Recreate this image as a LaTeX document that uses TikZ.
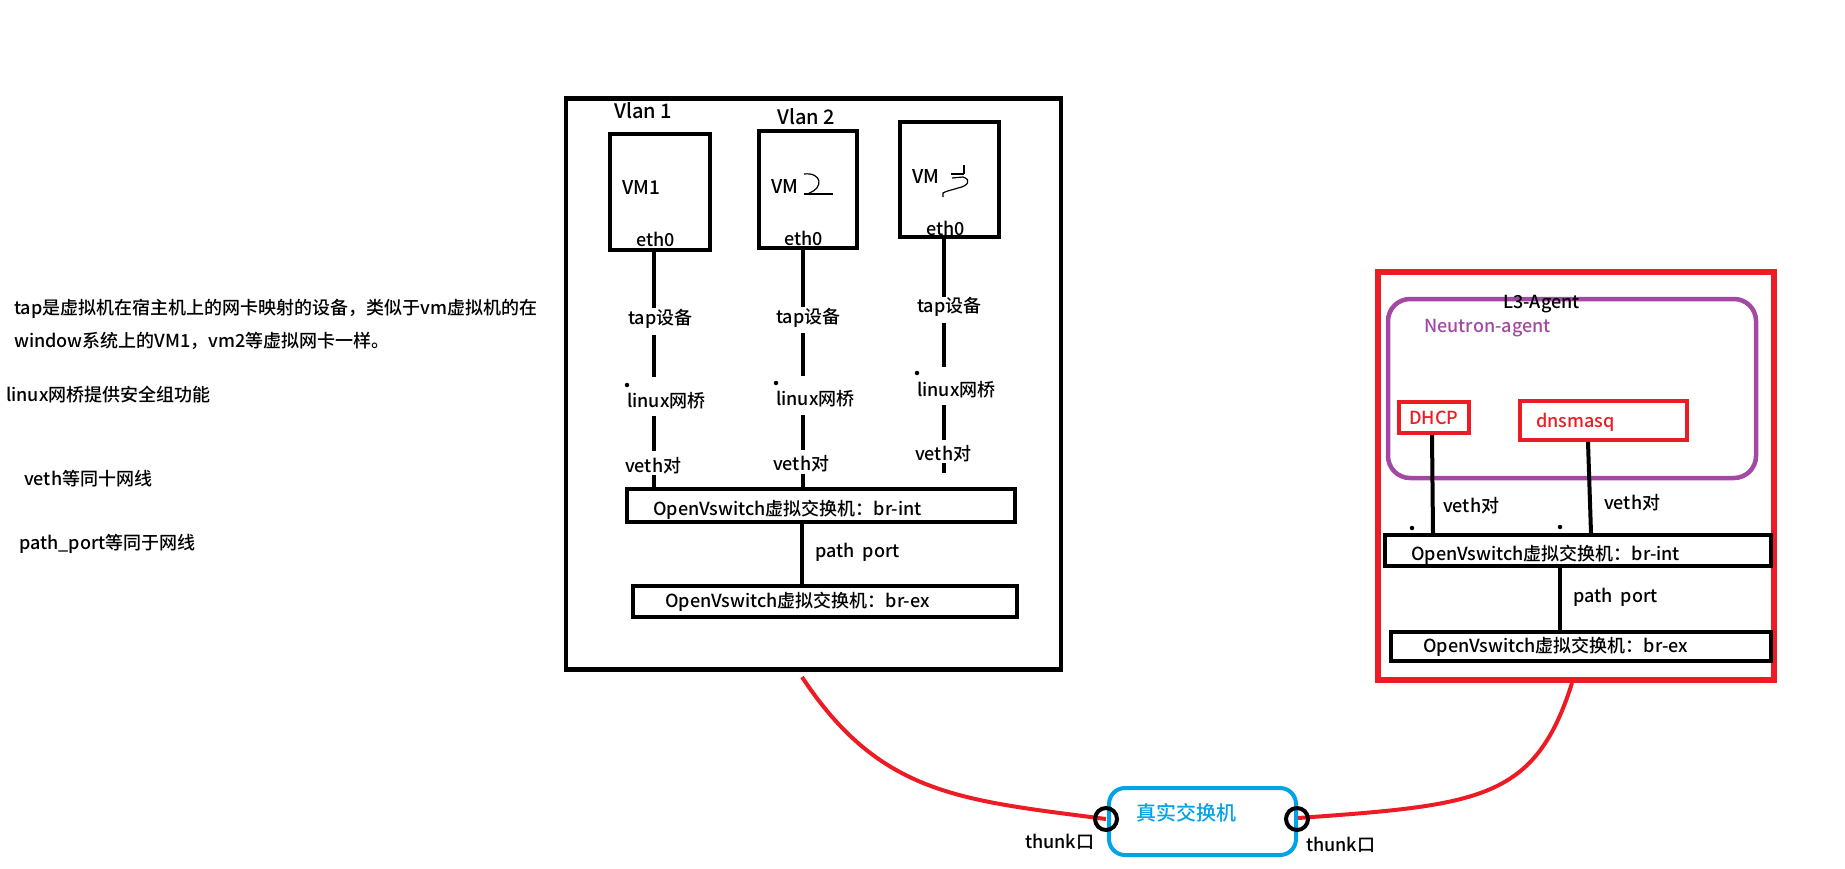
\documentclass[tikz,border=0pt]{standalone}
\usepackage{fontspec}
\setmainfont{Noto Sans CJK SC}[UprightFont=* Medium]
\definecolor{pred}{HTML}{ED1C24}
\definecolor{pblue}{HTML}{00A2E8}
\definecolor{ppurple}{HTML}{A349A4}
\begin{document}
\begin{tikzpicture}[x=1pt,y=-1pt,
  txt/.style={inner sep=0pt, anchor=west, font=\fontsize{18}{22}\selectfont},
  bigtxt/.style={txt, font=\fontsize{20}{24}\selectfont},
  box/.style={draw, line width=4pt, fill=white, inner sep=0pt},
  wire/.style={line width=4pt},
  redwire/.style={line width=4pt, pred},
  port/.style={draw, circle, line width=4pt, minimum size=22pt, inner sep=0pt},
  dotmark/.style={fill, circle, inner sep=0pt, minimum size=4.5pt},
  squig/.style={line width=1.2pt}]
\useasboundingbox (0,0) rectangle (1845,868);

% ---------- left notes ----------
\node[txt] (n1) at (14,309) {tap是虚拟机在宿主机上的网卡映射的设备，类似于vm虚拟机的在};
\node[txt] (n2) at (14,341) {window系统上的VM1，vm2等虚拟网卡一样。};
\node[txt] (n3) at (6,395) {linux网桥提供安全组功能};
\node[txt] (n4) at (24,479) {veth等同十网线};
\node[txt] (n5) at (19,544) {path\_port等同于网线};

% ---------- compute node ----------
\node[box, line width=4.5pt, minimum width=495pt, minimum height=571pt] (host) at (813.5,384) {};
\node[box, minimum width=100pt, minimum height=116pt] (vm1) at (660,192) {};
\node[box, minimum width=98pt, minimum height=117pt] (vm2) at (808,189.5) {};
\node[box, minimum width=99pt, minimum height=115pt] (vm3) at (949.5,179.5) {};
\node[bigtxt] (vlan1) at (614,111) {Vlan 1};
\node[bigtxt] (vlan2) at (777,117) {Vlan 2};
\node[txt, font=\fontsize{19}{23}\selectfont] (vm1t) at (622,187) {VM1};
\node[txt, font=\fontsize{19}{23}\selectfont] (vm2t) at (771,186) {VM};
\node[txt, font=\fontsize{19}{23}\selectfont] (vm3t) at (912,176) {VM};
\node[txt] (e1) at (636,239) {eth0};
\node[txt] (e2) at (784,238) {eth0};
\node[txt] (e3) at (926,228) {eth0};
% hand-drawn digits
\draw[squig] (804,174) .. controls (822,172) and (824,188) .. (809,193);
\draw[squig] (804,194) -- (833,194);
\draw[squig] (964,165) -- (964,174);
\draw[squig] (951,174) -- (964,174);
\draw[squig] (952,178) -- (963,177) .. controls (972,180) and (968,186) .. (958,188)
  .. controls (952,190) and (946,191) .. (943,193) -- (943,197);

\node[box, minimum width=388pt, minimum height=33pt] (brint1) at (821,505.5) {};
\node[box, minimum width=384pt, minimum height=31pt] (brex1) at (825,601.5) {};
\node[txt] (brint1t) at (653,510) {OpenVswitch虚拟交换机：br-int};
\node[txt] (brex1t) at (665,602) {OpenVswitch虚拟交换机：br-ex};

\node[txt] (tap1) at (628,319) {tap设备};
\node[txt] (tap2) at (776,318) {tap设备};
\node[txt] (tap3) at (917,307) {tap设备};
\node[txt] (lb1) at (627,401) {linux网桥};
\node[txt] (lb2) at (776,399) {linux网桥};
\node[txt] (lb3) at (917,390) {linux网桥};
\node[txt] (ve1) at (625,466) {veth对};
\node[txt] (ve2) at (773,464) {veth对};
\node[txt] (ve3) at (915,454) {veth对};
\node[txt] (pp1) at (815,552) {path\ \ port};

% column 1
\coordinate (a1) at (654,308); \coordinate (b1) at (654,335);
\coordinate (c1) at (654,377); \coordinate (d1) at (654,416);
\coordinate (f1) at (654,451); \coordinate (g1) at (654,475);
\draw[wire] (vm1.south -| a1) -- (a1);
\draw[wire] (b1) -- (c1);
\draw[wire] (d1) -- (f1);
\draw[wire] (g1) -- (brint1.north -| g1);
% column 2
\coordinate (a2) at (803,307); \coordinate (b2) at (803,333);
\coordinate (c2) at (803,376); \coordinate (d2) at (803,415);
\coordinate (f2) at (803,450); \coordinate (g2) at (803,474);
\draw[wire] (vm2.south -| a2) -- (a2);
\draw[wire] (b2) -- (c2);
\draw[wire] (d2) -- (f2);
\draw[wire] (g2) -- (brint1.north -| g2);
% column 3
\coordinate (a3) at (944,297); \coordinate (b3) at (944,323);
\coordinate (c3) at (944,367); \coordinate (d3) at (944,405);
\coordinate (f3) at (944,440); \coordinate (g3) at (944,463);
\coordinate (h3) at (944,473);
\draw[wire] (vm3.south -| a3) -- (a3);
\draw[wire] (b3) -- (c3);
\draw[wire] (d3) -- (f3);
\draw[wire] (g3) -- (h3);
% patch port
\coordinate (p1) at (802,0);
\draw[wire] (brint1.south -| p1) -- (brex1.north -| p1);
% dots
\node[dotmark] (dt1) at (627,385) {};
\node[dotmark] (dt2) at (776,383) {};
\node[dotmark] (dt3) at (917,373) {};

% ---------- network node ----------
\node[draw=pred, line width=6pt, minimum width=396pt, minimum height=408pt, inner sep=0pt] (netnode) at (1576,476) {};
\node[draw=ppurple, line width=4.5pt, rounded corners=22pt, minimum width=368pt, minimum height=179pt, inner sep=0pt] (agent) at (1572,388.5) {};
\node[txt] (l3) at (1503,304) {L3-Agent};
\node[txt, text=ppurple] (neutron) at (1424,328) {Neutron-agent};
\node[draw=pred, line width=4pt, minimum width=70pt, minimum height=31pt, inner sep=0pt] (dhcp) at (1434,417.5) {};
\node[draw=pred, line width=4pt, minimum width=167pt, minimum height=39pt, inner sep=0pt] (dns) at (1603.5,420.5) {};
\node[txt, text=pred] (dhcpt) at (1409,418) {DHCP};
\node[txt, text=pred] (dnst) at (1536,422) {dnsmasq};
\node[box, minimum width=386pt, minimum height=31pt] (brint2) at (1578,550.5) {};
\node[box, minimum width=380pt, minimum height=29pt] (brex2) at (1581,646.5) {};
\node[txt] (brint2t) at (1411,555) {OpenVswitch虚拟交换机：br-int};
\node[txt] (brex2t) at (1423,647) {OpenVswitch虚拟交换机：br-ex};
\node[txt] (ve4) at (1443,506) {veth对};
\node[txt] (ve5) at (1604,503) {veth对};
\node[txt] (pp2) at (1573,597) {path\ \ port};
\coordinate (q1) at (1432,0); \coordinate (q2) at (1433,0);
\coordinate (r1) at (1588,0); \coordinate (r2) at (1591,0);
\coordinate (p2) at (1560,0);
\draw[wire] (dhcp.south -| q1) -- (brint2.north -| q2);
\draw[wire] (dns.south -| r1) -- (brint2.north -| r2);
\draw[wire] (brint2.south -| p2) -- (brex2.north -| p2);
\node[dotmark] (dt4) at (1412,528) {};
\node[dotmark] (dt5) at (1560,527) {};

% ---------- physical switch ----------
\node[draw=pblue, line width=4pt, rounded corners=16pt, minimum width=187pt, minimum height=67pt, inner sep=0pt] (sw) at (1202.5,821.5) {};
\node[bigtxt, text=pblue] (swt) at (1136,813) {真实交换机};
\coordinate (hostout) at (802,677);
\coordinate (netout) at (1572,683);
\coordinate (tl) at (1106,819);
\coordinate (tr) at (1298,818);
\draw[redwire] (hostout) .. controls (880,795) and (960,800) .. (tl);
\draw[redwire] (tr) .. controls (1480,805) and (1535,800) .. (netout);
\node[port] (thl) at (tl) {};
\node[port] (thr) at (1297,819) {};
\node[txt] (thlt) at (1025,842) {thunk口};
\node[txt] (thrt) at (1306,845) {thunk口};
\end{tikzpicture}
\end{document}
